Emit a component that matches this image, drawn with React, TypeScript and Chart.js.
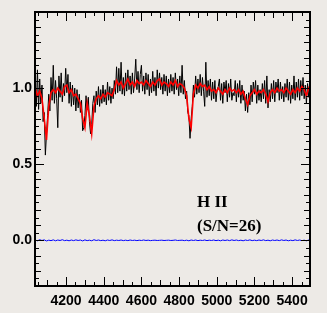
import React, { useEffect, useRef } from "react";
import { Chart, registerables } from "chart.js";

Chart.register(...registerables);

// Wavelength grid (Angstrom)
const LAMBDA_START = 4036;
const FLUX_STEP = 6;
const MODEL_STEP = 12;

// Observed spectrum (black)
const FLUX = [
  1.04, 0.88, 1.12, 0.86, 1.06, 0.9, 1.02, 0.78, 0.84, 0.56,
  0.7, 0.82, 0.96, 0.85, 1.07, 0.92, 1.15, 0.9, 1.05, 0.93,
  0.74, 1.08, 0.94, 1.1, 0.91, 1.03, 0.95, 1.13, 0.97, 1.09,
  0.9, 1.04, 0.88, 1.02, 0.89, 1.0, 0.85, 0.99, 0.87, 0.96,
  0.84, 0.92, 0.72, 0.74, 0.82, 0.95, 0.86, 0.94, 0.78, 0.7,
  0.76, 0.9, 0.95, 0.84, 0.98, 0.89, 1.01, 0.88, 0.99, 0.9,
  1.02, 0.91, 0.99, 0.89, 1.04, 0.92, 1.01, 0.9, 1.0, 0.93,
  1.05, 0.96, 1.14, 0.97, 1.13, 0.98, 1.17, 0.96, 1.07, 0.95,
  1.1, 0.98, 1.12, 0.99, 1.08, 0.96, 1.1, 0.97, 1.06, 1.19,
  0.99, 1.11, 0.97, 1.09, 1.15, 0.98, 1.08, 0.96, 1.1, 0.99,
  1.09, 0.95, 1.06, 0.97, 1.11, 0.98, 1.07, 0.95, 1.12, 1.0,
  1.1, 0.99, 1.07, 0.96, 1.09, 0.98, 1.08, 0.95, 1.06, 0.97,
  1.09, 0.98, 1.07, 0.96, 1.1, 0.99, 1.06, 0.95, 1.08, 0.97,
  1.15, 0.96, 1.05, 0.93, 0.98, 0.84, 0.82, 0.67, 0.8, 0.88,
  1.02, 0.94, 1.08, 0.96, 1.06, 0.97, 1.09, 0.95, 1.07, 0.98,
  0.88, 1.17, 0.94, 1.05, 0.95, 1.06, 0.92, 1.04, 0.93, 1.05,
  0.91, 0.99, 1.01, 1.06, 0.92, 1.03, 0.9, 1.04, 0.97, 1.05,
  0.91, 1.03, 0.94, 1.06, 0.92, 0.97, 0.95, 1.05, 0.91, 1.03,
  0.94, 1.05, 0.9, 1.02, 0.92, 0.98, 0.85, 0.96, 0.84, 0.97,
  0.89, 1.02, 0.91, 1.04, 0.96, 1.05, 0.9, 1.02, 0.92, 0.99,
  0.91, 1.03, 0.93, 1.05, 0.9, 1.08, 0.87, 0.99, 0.91, 1.03,
  0.93, 1.05, 0.91, 1.04, 0.97, 1.06, 0.92, 1.04, 0.93, 1.01,
  0.91, 1.03, 0.94, 1.06, 0.92, 1.04, 0.9, 1.02, 0.93, 1.08,
  0.92, 1.04, 0.94, 1.06, 0.92, 1.05, 0.95, 1.07, 0.93, 1.02,
  0.9, 1.03, 0.94, 1.04,
];

// Fitted model (red)
const MODEL = [
  1.0, 0.95, 0.98, 0.93, 0.8, 0.66, 0.88, 0.97, 0.99, 0.97,
  1.0, 0.98, 0.96, 1.01, 1.02, 0.97, 0.99, 0.95, 0.96, 0.93,
  0.9, 0.8, 0.74, 0.9, 0.82, 0.7, 0.88, 0.93, 0.95, 0.93,
  0.96, 0.94, 0.97, 0.96, 0.95, 0.99, 1.05, 1.02, 1.04, 1.0,
  1.03, 1.06, 1.02, 1.04, 1.01, 1.05, 1.03, 1.04, 1.02, 1.05,
  1.03, 1.01, 1.04, 1.02, 1.05, 1.06, 1.02, 1.04, 1.03, 1.01,
  1.04, 1.02, 1.05, 1.01, 1.03, 1.02, 1.0, 0.95, 0.8, 0.74,
  0.96, 1.02, 1.0, 1.03, 1.01, 1.02, 0.99, 1.01, 0.98, 0.99,
  0.97, 1.0, 0.98, 0.96, 0.99, 0.97, 1.0, 0.98, 0.99, 0.97,
  0.99, 0.96, 0.98, 0.93, 0.89, 0.95, 0.97, 0.99, 0.96, 0.98,
  0.97, 0.99, 0.96, 0.91, 0.97, 0.99, 0.97, 1.0, 0.98, 0.99,
  0.97, 1.0, 0.98, 0.96, 0.99, 0.97, 1.0, 0.98, 1.01, 0.99,
  0.95, 1.0, 0.97,
];

// Residual (blue)
const RESIDUAL = [
  0.002, -0.003, 0.004, -0.001, 0.003, -0.004, 0.001, -0.002, 0.003, -0.003,
  0.002, -0.001, 0.004, -0.002, 0.001, -0.003, 0.002, -0.002, 0.003, -0.001,
  0.002, -0.004, 0.003, -0.002, 0.001, -0.003, 0.004, -0.001, 0.002, -0.002,
  0.001, -0.003, 0.002, -0.001, 0.003, -0.002, 0.001, -0.001, 0.002, -0.002,
  0.001, -0.002, 0.002, -0.001, 0.001, -0.002, 0.001, -0.001, 0.002, -0.001,
  0.001, -0.002, 0.0, 0.001, -0.001, 0.0, 0.001, -0.001, 0.0, 0.001,
  -0.001, 0.0, 0.002, -0.001, 0.0, 0.001, -0.002, 0.001, -0.003, 0.002,
  -0.001, 0.002, -0.002, 0.001, -0.001, 0.002, -0.002, 0.001, -0.001, 0.002,
  -0.002, 0.001, -0.003, 0.002, -0.001, 0.002, -0.002, 0.003, -0.001, 0.002,
  -0.002, 0.001, -0.003, 0.002, -0.001, 0.003, -0.002, 0.001, -0.002, 0.002,
  -0.001, 0.003, -0.002, 0.001, -0.003, 0.002, -0.001, 0.002, -0.002, 0.003,
  -0.001, 0.002, -0.003, 0.001, -0.002, 0.003, -0.001, 0.002, -0.002, 0.001,
  -0.003, 0.002, -0.001,
];

const X_TICKS = [4200, 4400, 4600, 4800, 5000, 5200, 5400];
const Y_TICKS = [0.0, 0.5, 1.0];
const X_MIN = 4035;
const X_MAX = 5495;
const Y_MIN = -0.3;
const Y_MAX = 1.5;
const LABEL_REGION = "H II";
const LABEL_SN = "(S/N=26)";

const BG = "#edeae6";

const framePlugin = {
  id: "frameTicks",
  afterDatasetsDraw(chart: any) {
    const { ctx, chartArea: a, scales } = chart;
    const x = scales.x;
    const y = scales.y;
    ctx.save();
    ctx.strokeStyle = "#000";
    ctx.lineWidth = 1;
    const seg = (x1: number, y1: number, x2: number, y2: number) => {
      ctx.beginPath();
      ctx.moveTo(x1, y1);
      ctx.lineTo(x2, y2);
      ctx.stroke();
    };
    for (let v = Math.ceil(X_MIN / 50) * 50; v <= X_MAX; v += 50) {
      const px = Math.round(x.getPixelForValue(v)) + 0.5;
      const len = v % 200 === 0 ? 9 : v % 100 === 0 ? 6 : 4;
      seg(px, a.bottom, px, a.bottom - len);
      seg(px, a.top, px, a.top + len);
    }
    const i0 = Math.ceil(Y_MIN / 0.05 - 1e-6);
    const i1 = Math.floor(Y_MAX / 0.05 + 1e-6);
    for (let i = i0; i <= i1; i++) {
      const py = Math.round(y.getPixelForValue(i * 0.05)) + 0.5;
      const len = i % 10 === 0 ? 9 : i % 2 === 0 ? 6 : 4;
      seg(a.left, py, a.left + len, py);
      seg(a.right, py, a.right - len, py);
    }
    ctx.lineWidth = 2;
    ctx.strokeRect(a.left, a.top, a.right - a.left, a.bottom - a.top);

    ctx.fillStyle = "#000";
    ctx.textAlign = "left";
    ctx.textBaseline = "alphabetic";
    ctx.font = "bold 17px 'Liberation Serif', 'Times New Roman', serif";
    ctx.fillText(LABEL_REGION, 197, 207);
    ctx.fillText(LABEL_SN, 197, 231);
    ctx.restore();
  },
};

export default function App() {
  const ref = useRef<HTMLCanvasElement | null>(null);

  useEffect(() => {
    document.body.style.margin = "0";
    document.body.style.background = BG;
    const canvas = ref.current;
    if (!canvas) return;

    const flux = FLUX.map((v, i) => ({ x: LAMBDA_START + i * FLUX_STEP, y: v }));
    const model = MODEL.map((v, i) => ({ x: LAMBDA_START + i * MODEL_STEP, y: v }));
    const resid = RESIDUAL.map((v, i) => ({ x: LAMBDA_START + i * MODEL_STEP, y: v }));

    const tickFont = { family: "'Liberation Sans', Arial, sans-serif", size: 14, weight: "bold" as const };

    const chart = new Chart(canvas, {
      type: "line",
      data: {
        datasets: [
          { data: model, borderColor: "#ff0000", borderWidth: 1.6, pointRadius: 0, tension: 0, order: 0 },
          { data: flux, borderColor: "#000000", borderWidth: 1, pointRadius: 0, tension: 0, order: 1 },
          { data: resid, borderColor: "#0000ff", borderWidth: 1, pointRadius: 0, tension: 0, order: 2 },
        ],
      },
      options: {
        animation: false,
        responsive: false,
        maintainAspectRatio: false,
        events: [],
        layout: { padding: { left: 0, top: 12, right: 17, bottom: 0 } },
        plugins: { legend: { display: false }, tooltip: { enabled: false }, title: { display: false } },
        scales: {
          x: {
            type: "linear",
            min: X_MIN,
            max: X_MAX,
            grid: { display: false, drawTicks: false },
            border: { display: false },
            afterBuildTicks: (s: any) => {
              s.ticks = X_TICKS.map((v) => ({ value: v }));
            },
            afterFit: (s: any) => {
              s.height = 27;
            },
            ticks: {
              color: "#000",
              font: tickFont,
              padding: 7,
              maxRotation: 0,
              autoSkip: false,
              callback: (v: any) => String(v),
            },
          },
          y: {
            type: "linear",
            min: Y_MIN,
            max: Y_MAX,
            grid: { display: false, drawTicks: false },
            border: { display: false },
            afterBuildTicks: (s: any) => {
              s.ticks = Y_TICKS.map((v) => ({ value: v }));
            },
            afterFit: (s: any) => {
              s.width = 35;
            },
            ticks: {
              color: "#000",
              font: tickFont,
              padding: 3,
              autoSkip: false,
              callback: (v: any) => Number(v).toFixed(1),
            },
          },
        },
      },
      plugins: [framePlugin],
    });
    return () => chart.destroy();
  }, []);

  return (
    <div style={{ width: 327, height: 313, background: BG }}>
      <canvas ref={ref} width={327} height={313} style={{ display: "block", width: 327, height: 313 }} />
    </div>
  );
}
